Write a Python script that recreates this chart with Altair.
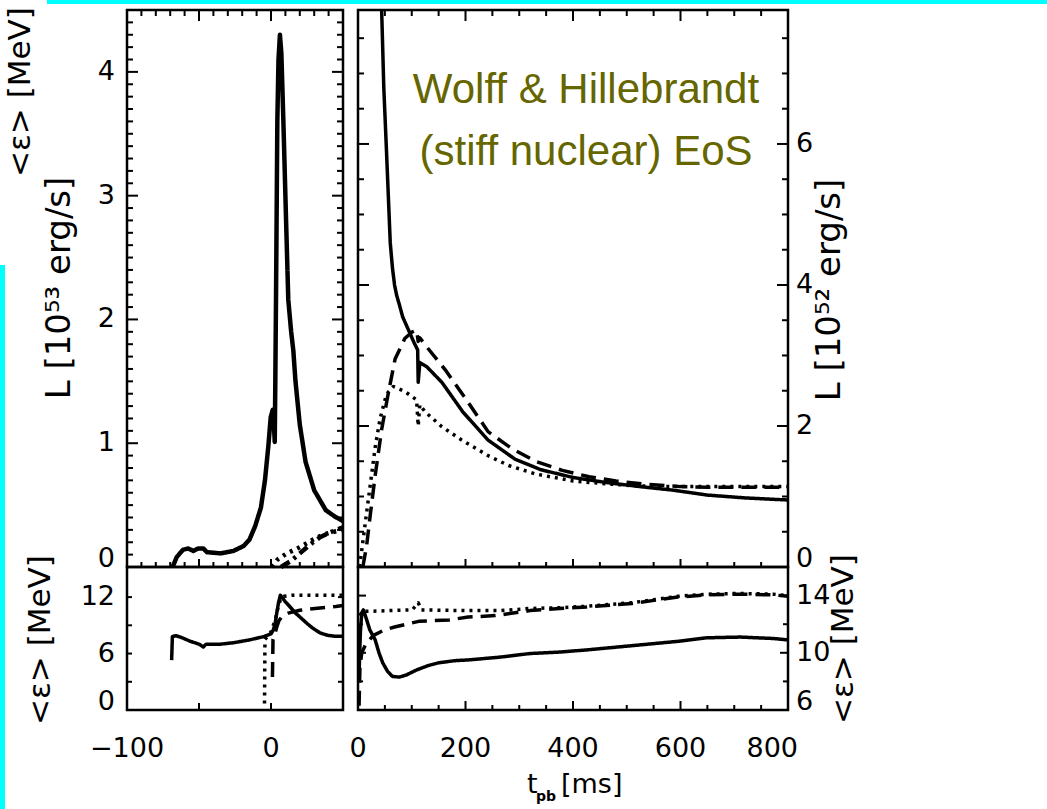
import altair as alt
import pandas as pd

FONT = "DejaVu Sans"
OLIVE = "#666600"
CYAN = "#00ffff"

# ------------------------------------------------------------------ data
# Collapse and bounce (left panels); t_pb in ms, L in 1e53 erg/s, <eps> in MeV
lt_nue_t = [-68.3, -65.5, -61, -57.5, -54, -50.5, -47, -44.5, -35, -26,
            -19, -15, -11, -7, -4.2, -1.9, -0.2, 1.2, 1.9, 2.6,
            3.0, 3.5, 4.4, 5.2, 6.2, 7.2, 8.6, 10.4, 12, 14,
            15.5, 17, 20, 24, 30, 38, 44, 50]
lt_nue_L = [0.0, 0.08, 0.14, 0.15, 0.13, 0.15, 0.15, 0.12, 0.11, 0.13,
            0.17, 0.22, 0.33, 0.48, 0.70, 0.97, 1.21, 1.27, 1.18, 1.01,
            1.50, 2.20, 3.60, 4.10, 4.30, 4.15, 3.60, 2.83, 2.16, 1.90,
            1.75, 1.50, 1.15, 0.85, 0.62, 0.46, 0.41, 0.37]
lt_nux_t = [0.5, 4.5, 11, 20, 29, 36, 42, 50]
lt_nux_L = [0.0, 0.06, 0.11, 0.16, 0.22, 0.26, 0.28, 0.30]
lt_anue_t = [7, 14, 20, 27, 34, 41, 50]
lt_anue_L = [0.0, 0.05, 0.11, 0.18, 0.24, 0.28, 0.32]

lb_nue_t = [-69, -68.5, -66, -62, -56, -50, -47, -45, -35, -26,
            -15, -5, 0, 1.6, 3, 4, 5.2, 6.5, 8, 10,
            13, 17, 20, 25, 29, 34, 39, 44, 50]
lb_nue_E = [5.3, 7.8, 7.9, 7.7, 7.3, 7.0, 6.7, 7.0, 7.0, 7.15,
            7.45, 7.8, 8.1, 8.5, 9.3, 10.3, 11.4, 12.2, 11.9, 11.5,
            11.0, 10.3, 9.9, 9.2, 8.7, 8.2, 7.95, 7.85, 7.85]
lb_nux_t = [-4.5, -4.2, 0, 3, 5, 7, 9, 15, 30, 50]
lb_nux_E = [0.7, 7.5, 8.3, 9.6, 11.0, 11.9, 12.1, 12.2, 12.2, 12.2]
lb_anue_t = [1.0, 1.4, 2.5, 4, 5.5, 8, 12, 20, 34, 45, 50]
lb_anue_E = [3.5, 7.5, 8.0, 8.8, 9.5, 10.0, 10.3, 10.6, 10.85, 11.0, 11.1]

# Post-bounce evolution (right panels); L in 1e52 erg/s
rt_nue_t = [44, 48, 53, 60, 64, 68, 72, 77, 83, 94,
            105, 111, 112, 115, 128, 156, 195, 242, 292, 340,
            400, 460, 525, 586, 650, 720, 800]
rt_nue_L = [7.9, 6.8, 5.9, 4.6, 4.25, 4.0, 3.85, 3.72, 3.55, 3.36,
            3.17, 3.08, 2.62, 2.9, 2.84, 2.62, 2.2, 1.8, 1.53, 1.38,
            1.27, 1.2, 1.14, 1.09, 1.02, 0.98, 0.95]
rt_anue_t = [9, 16, 23, 32, 44, 56, 69, 87, 100, 109,
             112, 115, 128, 162, 199, 242, 286, 330, 380, 430,
             480, 540, 600, 650, 720, 800]
rt_anue_L = [0.0, 0.3, 0.75, 1.3, 1.95, 2.45, 2.95, 3.24, 3.33, 3.36,
             3.2, 3.25, 3.12, 2.8, 2.4, 1.92, 1.68, 1.5, 1.37, 1.28,
             1.22, 1.17, 1.14, 1.13, 1.13, 1.13]
rt_nux_t = [3, 8, 14, 20, 26, 32, 41, 53, 66, 87,
            109, 112, 115, 125, 156, 193, 242, 280, 330, 400,
            460, 520, 600, 700, 800]
rt_nux_L = [0.0, 0.3, 0.65, 1.0, 1.35, 1.7, 2.1, 2.45, 2.56, 2.49,
            2.37, 2.0, 2.3, 2.2, 1.99, 1.8, 1.58, 1.44, 1.32, 1.22,
            1.18, 1.15, 1.14, 1.14, 1.14]

rb_nue_t = [1.5, 4.5, 7, 10, 14.5, 22, 32, 39, 46, 55,
            64, 77, 90, 109, 130, 150, 180, 205, 265, 320,
            375, 425, 510, 595, 649, 711, 773, 800]
rb_nue_E = [8.0, 11.5, 12.8, 13.0, 12.5, 11.6, 10.9, 10.0, 9.3, 8.7,
            8.35, 8.3, 8.45, 8.8, 9.1, 9.3, 9.45, 9.5, 9.7, 9.95,
            10.05, 10.2, 10.5, 10.8, 11.05, 11.1, 11.0, 10.9]
rb_nux_t = [3, 9, 19, 58, 101, 112, 118, 200, 265, 320, 375, 425, 510, 595, 649, 711, 773, 800]
rb_nux_E = [12.6, 12.9, 12.9, 12.95, 13.0, 13.5, 13.0, 12.95, 12.95, 13.1, 13.15, 13.25, 13.5, 13.95, 14.1, 14.15, 14.1, 14.0]
rb_anue_t = [2, 3.6, 7, 14.5, 28, 49, 68, 113, 170, 205, 255, 320, 375, 425, 510, 595, 649, 711, 773, 800]
rb_anue_E = [6.3, 9.0, 10.0, 10.6, 11.2, 11.6, 11.8, 12.2, 12.3, 12.5, 12.6, 12.95, 13.1, 13.2, 13.45, 13.9, 14.05, 14.1, 14.05, 13.95]

# tick values and labels
lt_y_labels = [0, 1, 2, 3, 4]
lb_y_labels = [0, 6, 12]
rt_y_labels = [0, 2, 4, 6]
rb_y_labels = [6, 10, 14]
lb_x_labels = [-100, 0]
rb_x_labels = [0, 200, 400, 600, 800]

# ------------------------------------------------------------------ layout
PANELS = {
    "lt": dict(xd=[-100, 50], xr=[127, 343], yd=[0, 4.5], yr=[567, 10]),
    "lb": dict(xd=[-100, 50], xr=[127, 343], yd=[0, 15.2], yr=[710, 567]),
    "rt": dict(xd=[0, 800], xr=[358, 788], yd=[0, 7.9], yr=[567, 10]),
    "rb": dict(xd=[0, 800], xr=[358, 788], yd=[6, 16], yr=[710, 567]),
}

DASH_NAMES = ["solid", "dashed", "dotted", "dashdot"]
DASH_PATTERNS = [[1, 0], [15, 8], [3, 5], [10, 5, 3, 5]]


def X(p, field="x"):
    c = PANELS[p]
    return alt.X(f"{field}:Q", axis=None,
                 scale=alt.Scale(domain=c["xd"], range=c["xr"], nice=False, zero=False))


def Y(p, field="y"):
    c = PANELS[p]
    return alt.Y(f"{field}:Q", axis=None,
                 scale=alt.Scale(domain=c["yd"], range=c["yr"], nice=False, zero=False))


def curves(p, series, width):
    rows = []
    for style, ts, vs in series:
        for i, (t, v) in enumerate(zip(ts, vs)):
            rows.append(dict(x=t, y=v, style=style, i=i))
    return alt.Chart(pd.DataFrame(rows)).mark_line(
        color="black", strokeWidth=width, strokeJoin="round"
    ).encode(
        x=X(p), y=Y(p), order="i:Q",
        strokeDash=alt.StrokeDash("style:N", legend=None,
                                  scale=alt.Scale(domain=DASH_NAMES, range=DASH_PATTERNS)),
    )


def frame(p):
    c = PANELS[p]
    df = pd.DataFrame([dict(x=c["xd"][0], x2=c["xd"][1], y=c["yd"][0], y2=c["yd"][1])])
    return alt.Chart(df).mark_rect(fillOpacity=0, stroke="black", strokeWidth=2.5).encode(
        x=X(p), x2="x2:Q", y=Y(p), y2="y2:Q")


def ticks(p, spec):
    """spec: list of (values, edge, length_px); ticks point into the panel."""
    c = PANELS[p]
    xppu = abs(c["xr"][1] - c["xr"][0]) / (c["xd"][1] - c["xd"][0])
    yppu = abs(c["yr"][1] - c["yr"][0]) / (c["yd"][1] - c["yd"][0])
    rows = []
    for values, edge, length in spec:
        for v in values:
            if edge in ("left", "right"):
                x0 = c["xd"][0] if edge == "left" else c["xd"][1]
                x1 = x0 + length / xppu if edge == "left" else x0 - length / xppu
                rows.append(dict(x=x0, x2=x1, y=v, y2=v))
            else:
                y0 = c["yd"][0] if edge == "bottom" else c["yd"][1]
                y1 = y0 + length / yppu if edge == "bottom" else y0 - length / yppu
                rows.append(dict(x=v, x2=v, y=y0, y2=y1))
    return alt.Chart(pd.DataFrame(rows)).mark_rule(color="black", strokeWidth=2).encode(
        x=X(p), x2="x2:Q", y=Y(p), y2="y2:Q")


def fmt(v):
    return str(v).replace("-", "\u2212")


def ylabels(p, values, side, size=27):
    c = PANELS[p]
    xe = c["xd"][0] if side == "left" else c["xd"][1]
    align = "right" if side == "left" else "left"
    dx = -12 if side == "left" else 8
    low = c["yd"][0]
    out = []
    inner = [v for v in values if v != low]
    edge = [v for v in values if v == low]
    for vals, base in ((inner, "middle"), (edge, "alphabetic")):
        if not vals:
            continue
        df = pd.DataFrame(dict(x=[xe] * len(vals), y=vals, t=[fmt(v) for v in vals]))
        out.append(alt.Chart(df).mark_text(
            align=align, baseline=base, dx=dx, fontSize=size, font=FONT, color="black"
        ).encode(x=X(p), y=Y(p), text="t:N"))
    return out


def xlabels(p, values, size=27):
    """Bottom tick labels; the one at the right end is kept inside the panel edge."""
    c = PANELS[p]
    hi = c["xd"][1]
    out = []
    for vals, align, dx in (([v for v in values if v != hi], "center", 0),
                            ([v for v in values if v == hi], "right", 10)):
        if not vals:
            continue
        df = pd.DataFrame(dict(x=vals, y=[c["yd"][0]] * len(vals), t=[fmt(v) for v in vals]))
        out.append(alt.Chart(df).mark_text(
            align=align, baseline="alphabetic", dx=dx, dy=47, fontSize=size, font=FONT,
            color="black"
        ).encode(x=X(p), y=Y(p), text="t:N"))
    return out


ONE = pd.DataFrame({"a": [0]})


def note(text, x, y, size, angle=0, align="center", color="black", font=FONT, weight="normal"):
    return alt.Chart(ONE).mark_text(
        text=text, align=align, baseline="alphabetic", angle=angle, fontSize=size,
        font=font, fontWeight=weight, color=color
    ).encode(x=alt.value(x), y=alt.value(y))


def band(x, x2, y, y2):
    return alt.Chart(ONE).mark_rect(color=CYAN).encode(
        x=alt.value(x), x2=alt.value(x2), y=alt.value(y), y2=alt.value(y2))


# ------------------------------------------------------------------ ticks
lt_minor_y = [round(0.1 * i, 1) for i in range(1, 45) if i % 10]
lt_minor_x = [v for v in range(-90, 50, 10) if v % 50]
rt_minor_y = [0.5 * i for i in range(1, 16) if i % 4]
rt_minor_x = [v for v in range(50, 800, 50) if v % 200]

layers = [
    band(47, 1047, 0, 4),
    band(0, 5, 265, 809),
    ticks("lt", [([1, 2, 3, 4], "left", 11), (lt_minor_y, "left", 6),
                 ([1, 2, 3, 4], "right", 11), (lt_minor_y, "right", 6),
                 ([-50, 0], "top", 11), (lt_minor_x, "top", 6),
                 ([-50, 0], "bottom", 8), (lt_minor_x, "bottom", 5)]),
    ticks("lb", [([3, 6, 9, 12], "left", 5), ([3, 6, 9, 12], "right", 5),
                 ([-50, 0], "bottom", 7)]),
    ticks("rt", [([2, 4, 6], "left", 11), (rt_minor_y, "left", 6),
                 ([2, 4, 6], "right", 11), (rt_minor_y, "right", 6),
                 ([200, 400, 600], "top", 11), (rt_minor_x, "top", 6),
                 ([200, 400, 600], "bottom", 8), (rt_minor_x, "bottom", 5)]),
    ticks("rb", [([10, 14], "left", 8), ([8, 12], "left", 5),
                 ([10, 14], "right", 8), ([8, 12], "right", 5),
                 ([200, 400, 600], "bottom", 9), (rt_minor_x, "bottom", 5)]),
    curves("lt", [("solid", lt_nue_t, lt_nue_L), ("dotted", lt_nux_t, lt_nux_L),
                  ("dashdot", lt_anue_t, lt_anue_L)], 4.5),
    curves("lb", [("solid", lb_nue_t, lb_nue_E), ("dotted", lb_nux_t, lb_nux_E),
                  ("dashed", lb_anue_t, lb_anue_E)], 3.5),
    curves("rt", [("solid", rt_nue_t, rt_nue_L), ("dashed", rt_anue_t, rt_anue_L),
                  ("dotted", rt_nux_t, rt_nux_L)], 3.5),
    curves("rb", [("solid", rb_nue_t, rb_nue_E), ("dashed", rb_anue_t, rb_anue_E),
                  ("dotted", rb_nux_t, rb_nux_E)], 3.5),
    frame("lt"), frame("lb"), frame("rt"), frame("rb"),
]
layers += ylabels("lt", lt_y_labels, "left")
layers += ylabels("lb", lb_y_labels, "left")
layers += ylabels("rt", rt_y_labels, "right")
layers += ylabels("rb", rb_y_labels, "right")
layers += xlabels("lb", lb_x_labels)
layers += xlabels("rb", rb_x_labels)
layers += [
    # axis titles
    note("L [10\u2075\u00b3 erg/s]", 70, 288, 34, angle=270),
    note("L [10\u2075\u00b2 erg/s]", 840, 290, 34, angle=270),
    note("<\u03b5> [MeV]", 50, 640, 31, angle=270),
    note("<\u03b5> [MeV]", 853, 639, 31, angle=270),
    note("<\u03b5> [MeV]", 30, 92, 31, angle=270),
    note("t", 527, 793, 27, align="left"),
    note("pb", 536, 801, 14, align="left", weight="bold"),
    note("[ms]", 561, 793, 27, align="left"),
    # model annotation
    note("Wolff & Hillebrandt", 586, 103, 42, color=OLIVE, font="Liberation Sans"),
    note("(stiff nuclear) EoS", 586, 165, 42, color=OLIVE, font="Liberation Sans"),
]

chart = alt.layer(*layers).resolve_scale(
    x="independent", y="independent"
).properties(
    width=1047, height=809, autosize="none", padding=0, background="white"
).configure_view(stroke=None)

chart.save("out.html", embed_options={"renderer": "svg", "actions": False})
